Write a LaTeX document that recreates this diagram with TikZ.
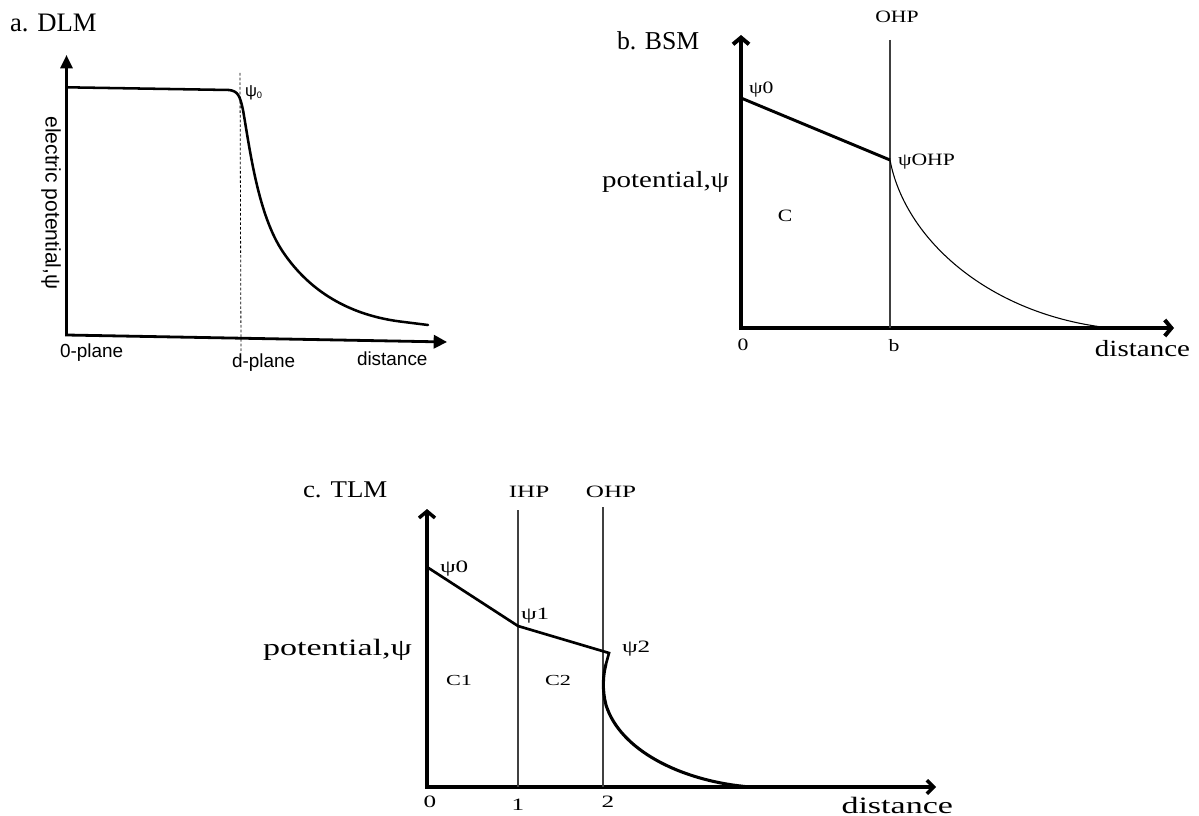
\documentclass[tikz,border=0pt]{standalone}
\usepackage{fontspec}
\setmainfont{Liberation Serif}
\newfontfamily\sansA{Liberation Sans}
\newfontfamily\serifB[FakeStretch=1.25]{Liberation Serif}
\newfontfamily\serifC[FakeStretch=1.45]{Liberation Serif}
\newfontfamily\serifT[FakeStretch=1.12]{Liberation Serif}
\usetikzlibrary{arrows.meta}
\newcommand\fsz[1]{\fontsize{#1}{#1}\selectfont}
\tikzset{
  lbl/.style={inner sep=0pt, outer sep=0pt},
  titleA/.style={lbl, anchor=base west, font=\fsz{20pt}},
  titleB/.style={lbl, anchor=base west, font=\fsz{19.3pt}},
  titleC/.style={lbl, anchor=base west, font=\serifT\fsz{18pt}},
  sanslbl/.style={lbl, anchor=base west, font=\sansA\fsz{14.2pt}},
  bbig/.style={lbl, font=\serifB\fsz{17.4pt}},
  bsmall/.style={lbl, font=\serifB\fsz{13pt}},
  btiny/.style={lbl, font=\serifB\fsz{13pt}},
  cbig/.style={lbl, font=\serifC\fsz{17.6pt}},
  csmall/.style={lbl, font=\serifC\fsz{13pt}},
  ctiny/.style={lbl, font=\serifC\fsz{11.5pt}},
  cnum/.style={lbl, font=\serifC\fsz{13pt}},
  axA/.style={line width=2.1pt, line join=miter},
  axB/.style={line width=3pt, line join=miter},
  axC/.style={line width=2.6pt, line join=miter},
  planeline/.style={line width=0.9pt, black!75},
}
\begin{document}
\begin{tikzpicture}[x=0.75pt,y=-0.75pt]
\useasboundingbox (0,0) rectangle (1199,816);

% ---------- panel a: DLM ----------
\node[titleA] (ta) at (10,32) {a. DLM};
\coordinate (aY) at (66.5,55);
\coordinate (aO) at (66.5,335);
\coordinate (aX) at (447,342);
\draw[axA, {Triangle[length=10pt,width=9pt]}-{Triangle[length=10pt,width=10pt]}] (aY) -- (aO) -- (aX);
\coordinate (adTop) at (240,73);
\coordinate (adBot) at (241,353);
\draw[line width=0.6pt, dash pattern=on 2pt off 1.5pt] (adTop) -- (adBot);
\draw[line width=1.9pt, line cap=round] (66.5,87.3) -- (229,90)
  .. controls (238,91) and (240,96) .. (243,110)
  .. controls (250,150) and (258,215) .. (283,252)
  .. controls (310,292) and (350,315) .. (400,321.5) -- (428,325);
\node[lbl, anchor=base west, font=\sansA\fsz{12.5pt}] (apsi) at (245,97) {ψ\raisebox{-1.5pt}{\fsz{7pt}0}};
\node[lbl, rotate=-90, font=\sansA\fsz{15.8pt}] (aylab) at (51,203) {electric potential,ψ};
\node[sanslbl] (a0p) at (60,358) {0-plane};
\node[sanslbl] (adp) at (232,368) {d-plane};
\node[sanslbl] (adist) at (357,366) {distance};

% ---------- panel b: BSM ----------
\node[titleB] (tb) at (617,50) {b. BSM};
\coordinate (bY) at (741,35);
\coordinate (bO) at (741,328);
\coordinate (bX) at (1174,328);
\draw[axB, {Straight Barb[length=5pt,width=12pt]}-{Straight Barb[length=5pt,width=12pt]}] (bY) -- (bO) -- (bX);
\coordinate (bOtop) at (890,40);
\coordinate (bObot) at (890,328);
\draw[planeline] (bOtop) -- (bObot);
\coordinate (bp0) at (741,98);
\coordinate (bp1) at (890,160);
\draw[line width=2.2pt] (bp0) -- (bp1);
\draw[line width=0.8pt] (bp1) .. controls (905,240) and (990,315) .. (1110,328);
\node[bsmall, anchor=base] (bOHP) at (897,23) {OHP};
\node[bsmall, anchor=west] (bpsi0) at (749,90) {ψ0};
\node[bsmall, anchor=west] (bpsiO) at (898,162) {ψOHP};
\node[bbig, anchor=base east] (bylab) at (729,188) {potential,ψ};
\node[btiny, anchor=base] (bC) at (785,222) {C};
\node[btiny, anchor=base] (b0) at (743,351) {0};
\node[btiny, anchor=base] (bb) at (894,352) {b};
\node[bbig, anchor=base east] (bdist) at (1190,357) {distance};

% ---------- panel c: TLM ----------
\node[titleC] (tc) at (303,497) {c. TLM};
\coordinate (cY) at (427,509);
\coordinate (cO) at (427,787);
\coordinate (cX) at (936,787);
\draw[axC, {Straight Barb[length=5pt,width=12pt]}-{Straight Barb[length=5pt,width=10pt]}] (cY) -- (cO) -- (cX);
\coordinate (cItop) at (518,510);
\coordinate (cIbot) at (518,787);
\coordinate (cOtop) at (603,507);
\coordinate (cObot) at (603,787);
\draw[planeline] (cItop) -- (cIbot);
\draw[planeline] (cOtop) -- (cObot);
\coordinate (cp0) at (427,567);
\coordinate (cp1) at (518,626);
\coordinate (cp2) at (609,653);
\draw[line width=2pt, line join=miter] (cp0) -- (cp1) -- (cp2) -- (606,664);
\draw[line width=2.3pt] (606,664) .. controls (603,675) and (602,690) .. (606,705)
  .. controls (620,750) and (680,780) .. (745,786.5);
\node[csmall, anchor=base] (cIHP) at (529,497) {IHP};
\node[csmall, anchor=base] (cOHP) at (611,497) {OHP};
\node[csmall, anchor=west] (cpsi0) at (440,569) {ψ0};
\node[csmall, anchor=west] (cpsi1) at (521,616) {ψ1};
\node[csmall, anchor=west] (cpsi2) at (622,649) {ψ2};
\node[cbig, anchor=base east] (cylab) at (412,655) {potential,ψ};
\node[ctiny, anchor=base] (cC1) at (459,685) {C1};
\node[ctiny, anchor=base] (cC2) at (558,685) {C2};
\node[cnum, anchor=base] (c0) at (430,807) {0};
\node[cnum, anchor=base] (c1) at (518,810) {1};
\node[cnum, anchor=base] (c2) at (608,807) {2};
\node[cbig, anchor=base east] (cdist) at (953,813) {distance};
\end{tikzpicture}
\end{document}
